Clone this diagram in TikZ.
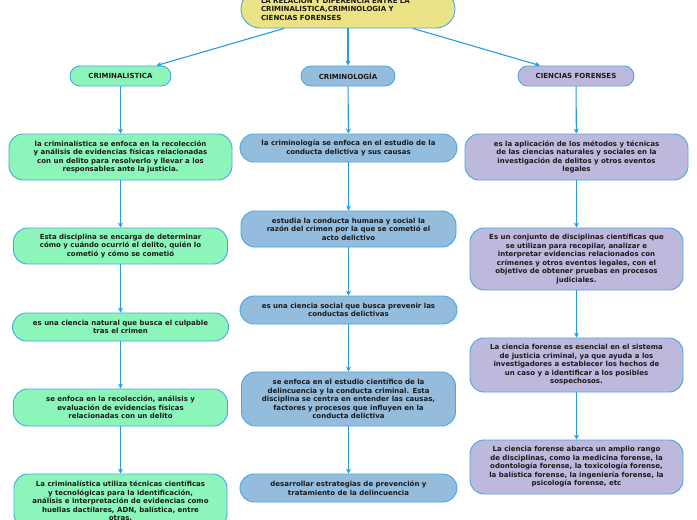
\documentclass[tikz,border=0pt]{standalone}
\usepackage{fontspec}
\setmainfont{DejaVu Sans}
\usetikzlibrary{arrows.meta}

\definecolor{verde}{RGB}{140,246,186}
\definecolor{azul}{RGB}{148,188,220}
\definecolor{lila}{RGB}{189,185,220}
\definecolor{amarillo}{RGB}{236,226,134}
\definecolor{borde}{RGB}{72,166,226}
\definecolor{linea}{RGB}{38,156,226}
\definecolor{tinta}{RGB}{26,26,26}

\tikzset{
  caja/.style={draw=borde, line width=0.9pt, rounded corners=14pt, inner sep=0pt,
    align=center, text=tinta, font=\bfseries\fontsize{7}{8.5}\selectfont},
  cabeza/.style={caja, rounded corners=10pt, minimum height=20pt},
  flecha/.style={draw=linea, line width=1.1pt, -{Stealth[length=5pt,width=5pt]}},
}

\begin{document}
\begin{tikzpicture}[x=1pt,y=-1pt]
\useasboundingbox (0,0) rectangle (697,520);
\clip (0,0) rectangle (697,520);

% titulo y cabeceras
\node[caja, fill=amarillo, minimum width=214pt, minimum height=38pt, rounded corners=19pt,
  text width=174pt, align=left] (titulo) at (348,9)
  {LA RELACION Y DIFERENCIA ENTRE LA\\CRIMINALISTICA,CRIMINOLOGIA Y\\CIENCIAS FORENSES};

\node[cabeza, fill=verde, minimum width=101pt] (crimtica) at (120.5,76) {CRIMINALISTICA};
\node[cabeza, fill=azul, minimum width=94pt] (crimlogia) at (348,76) {CRIMINOLOGÍA};
\node[cabeza, fill=lila, minimum width=116pt] (forenses) at (576,76) {CIENCIAS FORENSES};

\draw[flecha] ([xshift=-64pt]titulo.south) -- ([xshift=36pt]crimtica.north);
\draw[flecha] (titulo.south) -- (crimlogia.north);
\draw[flecha] ([xshift=65pt]titulo.south) -- ([xshift=-36pt]forenses.north);

% criminalistica
\node[caja, fill=verde, minimum width=223pt, minimum height=46pt] (ctA) at (120.5,157)
  {la criminalística se enfoca en la recolección\\y análisis de evidencias físicas relacionadas\\con un delito para resolverlo y llevar a los\\responsables ante la justicia.};
\node[caja, fill=verde, minimum width=214pt, minimum height=36pt] (ctB) at (120.5,246)
  {Esta disciplina se encarga de determinar\\cómo y cuándo ocurrió el delito, quién lo\\cometió y cómo se cometió};
\node[caja, fill=verde, minimum width=216pt, minimum height=28pt] (ctC) at (120.5,327)
  {es una ciencia natural que busca el culpable\\tras el crimen};
\node[caja, fill=verde, minimum width=214pt, minimum height=37pt] (ctD) at (120.5,407.5)
  {se enfoca en la recolección, análisis y\\evaluación de evidencias físicas\\relacionadas con un delito};
\node[caja, fill=verde, minimum width=213pt, minimum height=54pt] (ctE) at (120.5,501)
  {La criminalística utiliza técnicas científicas\\y tecnológicas para la identificación,\\análisis e interpretación de evidencias como\\huellas dactilares, ADN, balística, entre\\otras.};

\draw[flecha] (crimtica) -- (ctA);
\draw[flecha] (ctA) -- (ctB);
\draw[flecha] (ctB) -- (ctC);
\draw[flecha] (ctC) -- (ctD);
\draw[flecha] (ctD) -- (ctE);

% criminologia
\node[caja, fill=azul, minimum width=217pt, minimum height=28pt] (clA) at (348.5,148)
  {la criminología se enfoca en el estudio de la\\conducta delictiva y sus causas};
\node[caja, fill=azul, minimum width=215pt, minimum height=36pt] (clB) at (348.5,229)
  {estudia la conducta humana y social la\\razón del crimen por la que se cometió el\\acto delictivo};
\node[caja, fill=azul, minimum width=217pt, minimum height=28pt] (clC) at (348.5,310)
  {es una ciencia social que busca prevenir las\\conductas delictivas};
\node[caja, fill=azul, minimum width=214pt, minimum height=54pt] (clD) at (348.5,399)
  {se enfoca en el estudio científico de la\\delincuencia y la conducta criminal. Esta\\disciplina se centra en entender las causas,\\factores y procesos que influyen en la\\conducta delictiva};
\node[caja, fill=azul, minimum width=217pt, minimum height=28pt] (clE) at (348.5,488)
  {desarrollar estrategias de prevención y\\tratamiento de la delincuencia};

\draw[flecha] (crimlogia) -- (clA);
\draw[flecha] (clA) -- (clB);
\draw[flecha] (clB) -- (clC);
\draw[flecha] (clC) -- (clD);
\draw[flecha] (clD) -- (clE);

% ciencias forenses
\node[caja, fill=lila, minimum width=223pt, minimum height=46pt] (cfA) at (576.5,157)
  {es la aplicación de los métodos y técnicas\\de las ciencias naturales y sociales en la\\investigación de delitos y otros eventos\\legales};
\node[caja, fill=lila, minimum width=213pt, minimum height=62pt] (cfB) at (576.5,259)
  {Es un conjunto de disciplinas científicas que\\se utilizan para recopilar, analizar e\\interpretar evidencias relacionados con\\crímenes y otros eventos legales, con el\\objetivo de obtener pruebas en procesos\\judiciales.};
\node[caja, fill=lila, minimum width=213pt, minimum height=54pt] (cfC) at (576.5,365)
  {La ciencia forense es esencial en el sistema\\de justicia criminal, ya que ayuda a los\\investigadores a establecer los hechos de\\un caso y a identificar a los posibles\\sospechosos.};
\node[caja, fill=lila, minimum width=213pt, minimum height=54pt] (cfD) at (576.5,467)
  {La ciencia forense abarca un amplio rango\\de disciplinas, como la medicina forense, la\\odontología forense, la toxicología forense,\\la balística forense, la ingeniería forense, la\\psicología forense, etc};

\draw[flecha] (forenses) -- (cfA);
\draw[flecha] (cfA) -- (cfB);
\draw[flecha] (cfB) -- (cfC);
\draw[flecha] (cfC) -- (cfD);

\end{tikzpicture}
\end{document}
